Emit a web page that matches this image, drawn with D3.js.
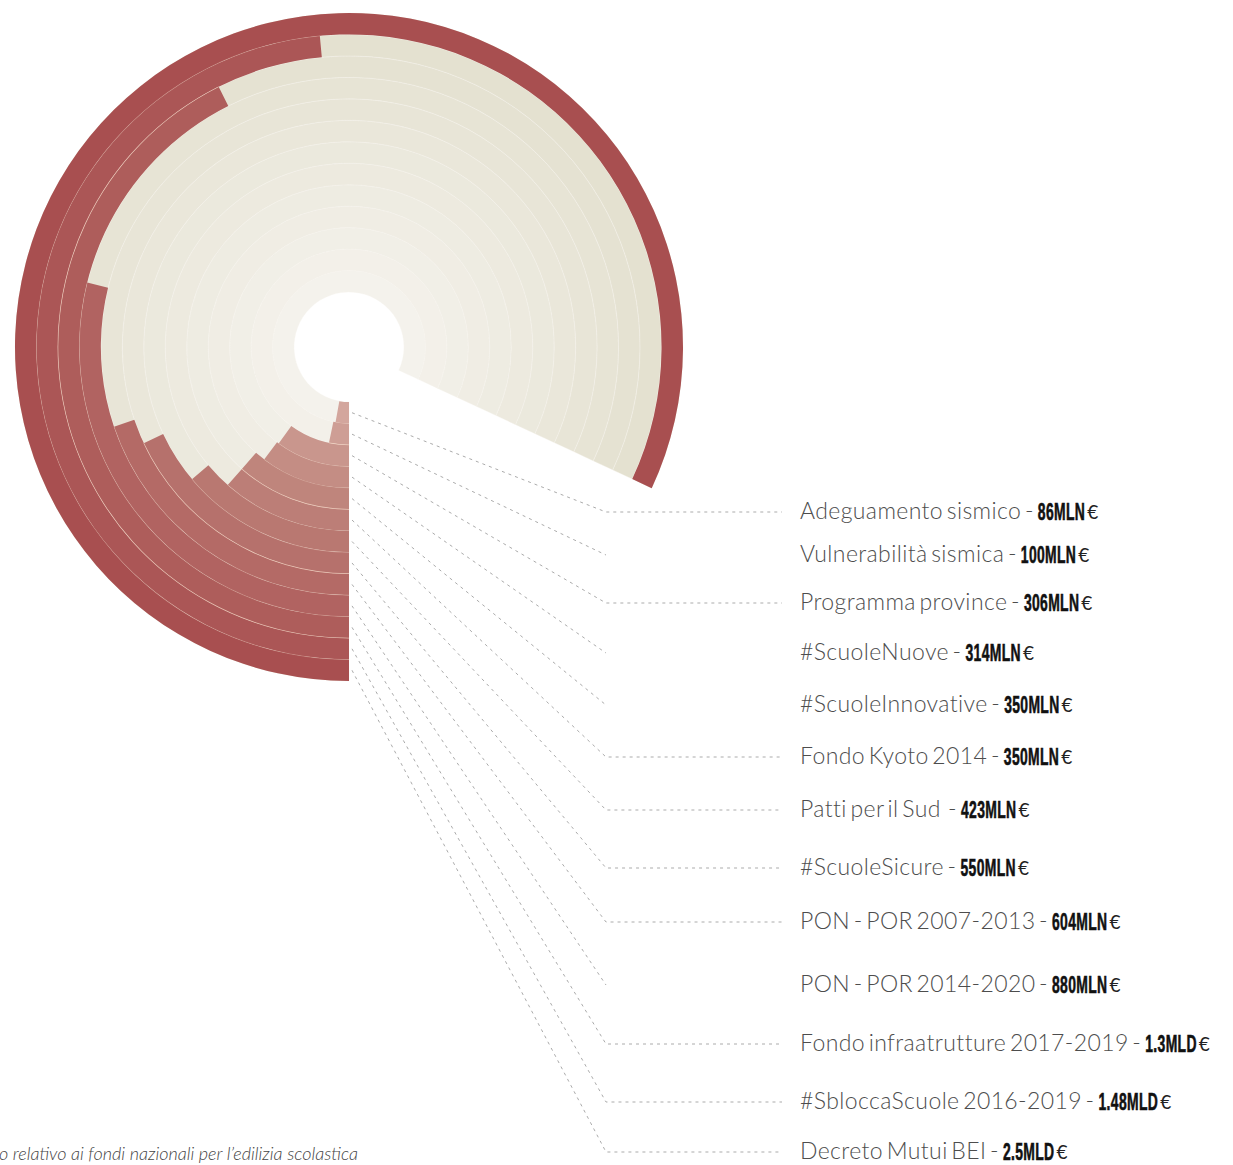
<!DOCTYPE html>
<html>
<head>
<meta charset="utf-8">
<script src="https://cdn.jsdelivr.net/npm/d3@7"></script>
<style>
  body { margin: 0; background: #fff; }
  svg { display: block; }
</style>
</head>
<body>
<div id="chart"></div>
<script>
// data (values in millions of euro)
const categories = ["Adeguamento sismico", "Vulnerabilità sismica", "Programma province", "#ScuoleNuove",
    "#ScuoleInnovative", "Fondo Kyoto 2014", "Patti per il Sud ", "#ScuoleSicure", "PON - POR 2007-2013",
    "PON - POR 2014-2020", "Fondo infraatrutture 2017-2019", "#SbloccaScuole 2016-2019", "Decreto Mutui BEI"];
const valuesMln = [86, 100, 306, 314, 350, 350, 423, 550, 604, 880, 1300, 1480, 2500];
const valueLabels = ["86MLN", "100MLN", "306MLN", "314MLN", "350MLN", "350MLN", "423MLN", "550MLN",
    "604MLN", "880MLN", "1.3MLD", "1.48MLD", "2.5MLD"];
const subtitle = "o relativo ai fondi nazionali per l\u2019edilizia scolastica";

// layout of the annotation column
const labelRows = [512, 555, 603, 653, 705, 757, 810, 868, 922, 985, 1044, 1102, 1152];
const leaderTail = [true, false, true, false, false, true, true, true, true, false, true, true, true];

const width = 1233, height = 1165;
const cx = 349, cy = 347;
const innerR = 55, outerR = 334;
const maxAngle = Math.PI + 295 * Math.PI / 180;

const svg = d3.select("#chart").append("svg")
    .attr("width", width)
    .attr("height", height);

const g = svg.append("g").attr("transform", "translate(" + cx + "," + cy + ")");

const angleScale = d3.scaleLinear()
    .domain([0, 2500])
    .range([Math.PI, maxAngle]);

const ringScale = d3.scaleBand()
    .domain(categories)
    .range([innerR, outerR]);

const bw = ringScale.bandwidth();

const trackColor = d3.scaleLinear()
    .domain([0, categories.length - 1])
    .range(["#f4f2ec", "#e2dfcd"])
    .interpolate(d3.interpolateRgb);

const barColor = d3.scaleLinear()
    .domain([0, 4, categories.length - 1])
    .range(["#d3a69d", "#bf857c", "#a84f50"])
    .interpolate(d3.interpolateRgb);

const arc = d3.arc();

// background tracks
g.selectAll(".track")
    .data(categories)
    .enter()
    .append("path")
    .attr("class", "track")
    .attr("d", d => arc({ innerRadius: ringScale(d), outerRadius: ringScale(d) + bw, startAngle: Math.PI, endAngle: maxAngle }))
    .attr("fill", (d, i) => trackColor(i))
    .attr("stroke", "#f7f5ef")
    .attr("stroke-opacity", 0.45)
    .attr("stroke-width", 0.8);

// bars
g.selectAll(".bar")
    .data(categories)
    .enter()
    .append("path")
    .attr("class", "bar")
    .attr("d", (d, i) => arc({ innerRadius: ringScale(d), outerRadius: ringScale(d) + bw, startAngle: Math.PI, endAngle: angleScale(valuesMln[i]) }))
    .attr("fill", (d, i) => barColor(i));

// thin light separators between the red rings
g.selectAll(".sep")
    .data(categories.slice(0, -1))
    .enter()
    .append("path")
    .attr("class", "sep")
    .attr("d", (d, i) => arc({ innerRadius: ringScale(d) + bw - 0.35, outerRadius: ringScale(d) + bw + 0.35, startAngle: Math.PI, endAngle: angleScale(valuesMln[i]) }))
    .attr("fill", "#f3d3c2")
    .attr("opacity", (d, i) => (i % 3 === 1 ? 0.8 : 0.35));

// leader lines
const line = d3.line();
svg.selectAll(".leader")
    .data(categories)
    .enter()
    .append("path")
    .attr("class", "leader")
    .attr("d", (d, i) => {
        const pts = [[cx + 3, cy + ringScale(d) + bw / 2], [606, labelRows[i]]];
        if (leaderTail[i]) pts.push([782, labelRows[i]]);
        return line(pts);
    })
    .attr("fill", "none")
    .attr("stroke", "#ababab")
    .attr("stroke-width", 1)
    .attr("stroke-dasharray", "3,4");

// labels
const labels = svg.selectAll(".label")
    .data(categories)
    .enter()
    .append("g")
    .attr("class", "label");

labels.each(function (d, i) {
    const lg = d3.select(this);
    const y = labelRows[i] + 7;
    const name = lg.append("text")
        .attr("x", 800)
        .attr("y", y)
        .attr("font-family", "Lato, 'Open Sans', sans-serif")
        .attr("font-weight", 300)
        .attr("font-size", 23)
        .attr("letter-spacing", 0.4)
        .attr("word-spacing", -3)
        .attr("fill", "#4d4d4d")
        .style("white-space", "pre")
        .text(d + " -");
    const w = name.node().getComputedTextLength();
    const vx = 800 + w + 4;
    const val = lg.append("text")
        .attr("transform", "translate(" + vx + "," + (y + 1) + ") scale(0.58,1)")
        .attr("font-family", "'Liberation Sans', Arial, sans-serif")
        .attr("font-weight", 700)
        .attr("font-size", 24)
        .attr("letter-spacing", 0.6)
        .attr("fill", "#111")
        .attr("stroke", "#111")
        .attr("stroke-width", 0.6)
        .text(valueLabels[i]);
    const vw = val.node().getComputedTextLength() * 0.58;
    lg.append("text")
        .attr("x", vx + vw + 2)
        .attr("y", y)
        .attr("font-family", "Lato, 'Open Sans', sans-serif")
        .attr("font-weight", 400)
        .attr("font-size", 19)
        .attr("fill", "#222")
        .text("\u20ac");
});

svg.append("text")
    .attr("x", -1)
    .attr("y", 1160)
    .attr("font-family", "Lato, 'Open Sans', sans-serif")
    .attr("font-weight", 300)
    .attr("font-style", "italic")
    .attr("font-size", 18)
    .attr("fill", "#444")
    .text(subtitle);
</script>
</body>
</html>
